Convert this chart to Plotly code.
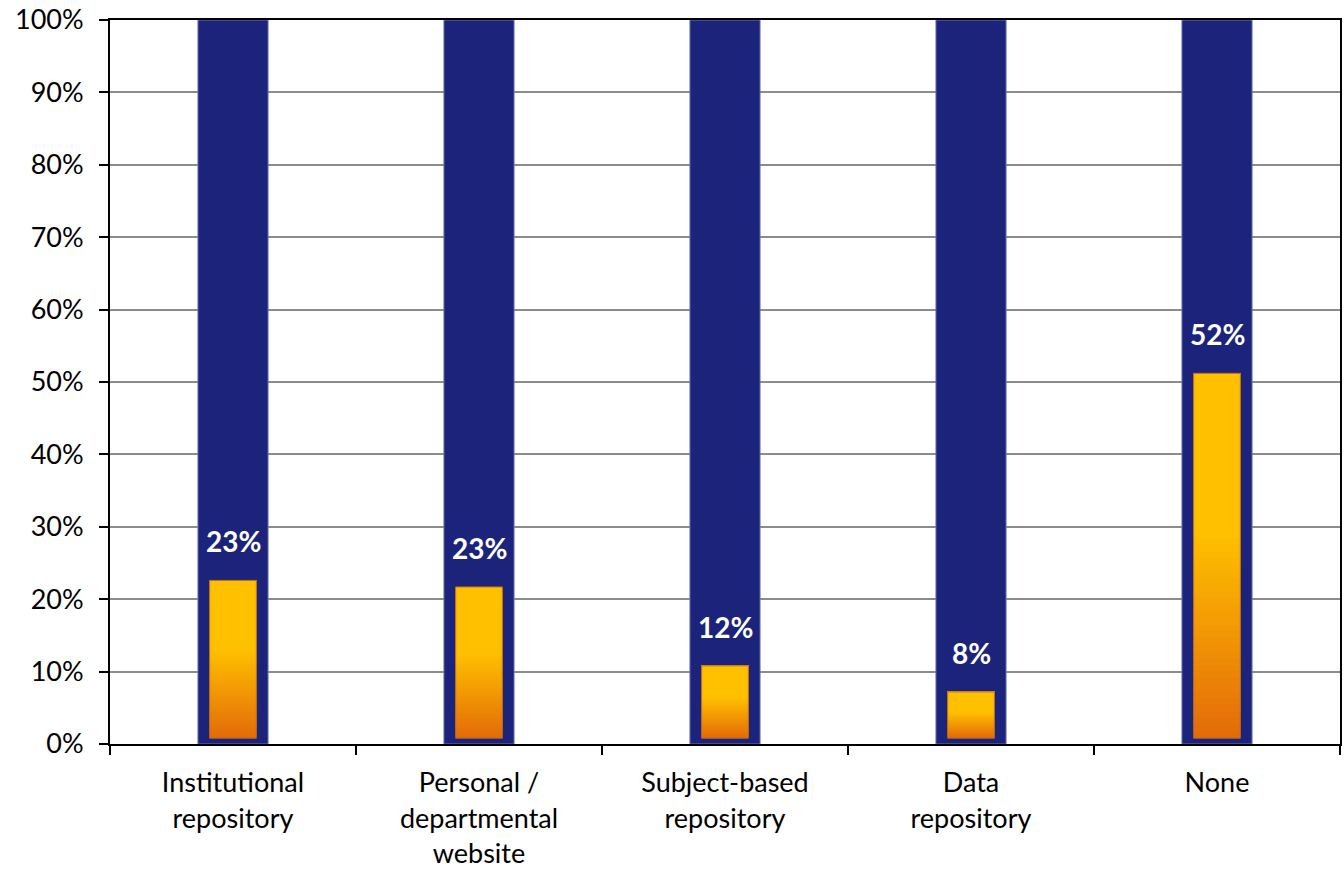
import plotly.graph_objects as go

categories = ["Institutional<br>repository", "Personal /<br>departmental<br>website",
              "Subject-based<br>repository", "Data<br>repository", "None"]
label_values = [23, 23, 12, 8, 52]          # percentages printed on the chart
bar_tops = [22.6, 21.7, 10.8, 7.2, 51.2]     # top of orange bars as drawn (%)
bar_base = 0.8                               # orange bars start just above 0
back_values = [100, 100, 100, 100, 100]      # navy background bars
y_ticks = [0, 10, 20, 30, 40, 50, 60, 70, 80, 90, 100]

FONT = "Lato"
NAVY = "#1B237A"
TOP_C = (255, 192, 0)
BOT_C = (227, 108, 9)

fig = go.Figure()

# navy background bars
fig.add_trace(go.Bar(
    x=categories, y=back_values, width=0.285,
    marker=dict(color=NAVY, line=dict(color="#6A74B6", width=1)),
    hoverinfo="skip", showlegend=False))

# orange gradient bars: layered rectangles, each one from its start to the bar top
N_GRAD = 30
grad_frac = 0.55  # bottom fraction of each bar with the gradient
heights = [t - bar_base for t in bar_tops]
for k in range(N_GRAD + 1):
    f = min(k / N_GRAD, 1.0)
    col = tuple(round(BOT_C[i] + (TOP_C[i] - BOT_C[i]) * f) for i in range(3))
    bases = [bar_base + h * grad_frac * k / N_GRAD for h in heights]
    fig.add_trace(go.Bar(
        x=categories, y=[t - b for t, b in zip(bar_tops, bases)],
        base=bases, width=0.19,
        marker=dict(color="rgb(%d,%d,%d)" % col, line=dict(width=0)),
        hoverinfo="skip", showlegend=False))

# outline of orange bars
fig.add_trace(go.Bar(
    x=categories, y=heights, base=[bar_base] * len(heights), width=0.19,
    marker=dict(color="rgba(0,0,0,0)", line=dict(color="#B8651A", width=1)),
    hoverinfo="skip", showlegend=False))

for c, t, v in zip(categories, bar_tops, label_values):
    fig.add_annotation(x=c, y=t, text="<b>%d%%</b>" % v, showarrow=False,
                       yanchor="bottom", yshift=20,
                       font=dict(family=FONT, size=28, color="white"))

fig.update_layout(
    barmode="overlay",
    width=1344, height=878,
    margin=dict(l=110, r=2, t=18, b=134),
    paper_bgcolor="white", plot_bgcolor="white",
    font=dict(family=FONT, size=27, color="black"),
)
fig.update_xaxes(
    showline=True, linecolor="black", linewidth=2, mirror=True,
    ticks="outside", tickson="boundaries", ticklen=9, tickwidth=2, tickcolor="black",
    ticklabelstandoff=14,
    tickfont=dict(family=FONT, size=27, color="black"), showgrid=False)
fig.update_yaxes(
    range=[0, 100], tickvals=y_ticks, ticktext=["%d%%" % v for v in y_ticks],
    showline=True, linecolor="black", linewidth=2, mirror=True,
    ticks="outside", ticklen=9, tickwidth=2, tickcolor="black",
    ticklabelstandoff=10,
    showgrid=True, gridcolor="#8C8C8C", gridwidth=2, zeroline=False,
    tickfont=dict(family=FONT, size=27, color="black"))

fig.write_html("out.html")
